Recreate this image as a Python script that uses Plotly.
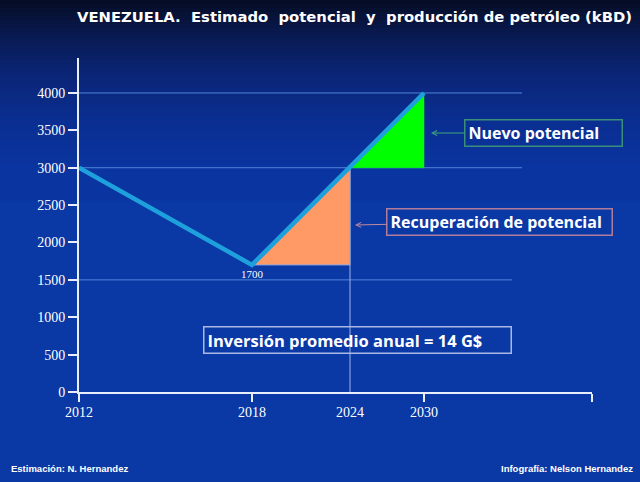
import plotly.graph_objects as go

# ---------------- data ----------------
tick_years = [2012, 2018, 2024, 2030]
tick_labels = ["2012", "2018", "2024", "2030"]
# the slide's x axis is irregular: position of each year along the axis
tick_pos = [0, 173, 271, 345]
axis_end = 513

prod_years = [2012, 2018, 2030]
prod_values = [3000, 1700, 4000]

recup_years = [2018, 2024, 2024, 2018]
recup_values = [1700, 3000, 1700, 1700]

nuevo_years = [2024, 2030, 2030, 2024]
nuevo_values = [3000, 4000, 3000, 3000]

y_ticks = [0, 500, 1000, 1500, 2000, 2500, 3000, 3500, 4000]
grid_levels = [4000, 3000, 1500]
min_label = "1700"

pos = dict(zip(tick_years, tick_pos))
def px(years):
    return [pos[y] for y in years]

# ---------------- figure ----------------
W, H = 640, 482
ML, MR, MT, MB = 79, 48, 58, 90
y_max = 4468

fig = go.Figure()

# gradient background (stripes)
stops = [(0, (5, 12, 35)), (30, (8, 24, 75)), (70, (10, 36, 115)),
         (120, (10, 46, 145)), (170, (10, 52, 160)), (482, (10, 56, 165))]
def col_at(y):
    for (y0, c0), (y1, c1) in zip(stops[:-1], stops[1:]):
        if y0 <= y <= y1:
            t = (y - y0) / (y1 - y0)
            return "rgb(%d,%d,%d)" % tuple(round(a + (b - a) * t) for a, b in zip(c0, c1))
    return "rgb(%d,%d,%d)" % stops[-1][1]

pw, ph = W - ML - MR, H - MT - MB
def pxx(x):
    return (x - ML) / pw
def pyy(y):
    return (H - MB - y) / ph

step = 4
shapes = []
for y in range(0, 200, step):
    shapes.append(dict(type="rect", xref="paper", yref="paper", layer="below",
                       x0=pxx(0), x1=pxx(W), y0=pyy(y + step + 0.5), y1=pyy(y),
                       fillcolor=col_at(y + step / 2), line=dict(width=0)))

# horizontal reference lines
grid_end = {4000: 443, 3000: 443, 1500: 433}
for g in grid_levels:
    shapes.append(dict(type="line", xref="x", yref="y", layer="below",
                       x0=0, x1=grid_end[g], y0=g, y1=g,
                       line=dict(color="#4f86dc", width=1)))
# vertical line at 2024
shapes.append(dict(type="line", xref="x", yref="y", layer="below",
                   x0=pos[2024], x1=pos[2024], y0=0, y1=3000,
                   line=dict(color="#9db3e6", width=1)))

fig.add_trace(go.Scatter(x=px(recup_years), y=recup_values, fill="toself",
                         fillcolor="#ff9966", mode="lines",
                         line=dict(color="#8fa8e0", width=1), hoverinfo="skip"))
fig.add_trace(go.Scatter(x=px(nuevo_years), y=nuevo_values, fill="toself",
                         fillcolor="#00ff00", mode="lines",
                         line=dict(color="#00ff00", width=0.5), hoverinfo="skip"))
fig.add_trace(go.Scatter(x=px(prod_years), y=prod_values, mode="lines",
                         line=dict(color="#1ea0dc", width=4.5), hoverinfo="skip"))

white = "#ffffff"
bold_font = "Open Sans, Liberation Sans, Arial"
foot_font = "Liberation Sans, Arial"
annotations = [
    dict(text="<b>VENEZUELA.  Estimado  potencial  y  producción de petróleo (kBD)</b>",
         xref="paper", yref="paper", x=pxx(634), y=pyy(17), xanchor="right", yanchor="middle",
         showarrow=False, font=dict(family="DejaVu Sans", size=14.8, color=white)),
    dict(text="<b>Estimación: N. Hernandez</b>", xref="paper", yref="paper",
         x=pxx(9), y=pyy(468), xanchor="left", yanchor="middle", showarrow=False,
         font=dict(family=foot_font, size=9.5, color=white)),
    dict(text="<b>Infografía: Nelson Hernandez</b>", xref="paper", yref="paper",
         x=pxx(635), y=pyy(468), xanchor="right", yanchor="middle", showarrow=False,
         font=dict(family=foot_font, size=9.5, color=white)),
    dict(text=min_label, xref="x", yref="y", x=pos[2018], y=1700, yshift=-9,
         showarrow=False, yanchor="middle",
         font=dict(family="Liberation Serif, Times New Roman", size=11, color=white)),
    dict(text="<b>Nuevo potencial</b>", xref="x", yref="y", x=352, y=(H - MB - 133) / ph * y_max,
         ax=112, ay=0, showarrow=True, arrowhead=5, arrowsize=1, arrowwidth=1,
         arrowcolor="#3fa57a", bordercolor="#3a8f78", borderwidth=1.5, borderpad=3,
         width=150, height=19, align="left",
         font=dict(family=bold_font, size=16, color=white)),
    dict(text="<b>Recuperación de potencial</b>", xref="x", yref="y", x=276, y=(H - MB - 225) / ph * y_max,
         ax=144, ay=-3, showarrow=True, arrowhead=5, arrowsize=1, arrowwidth=1,
         arrowcolor="#c48aa0", bordercolor="#b07c9c", borderwidth=1.5, borderpad=3,
         width=218, height=19, align="left",
         font=dict(family=bold_font, size=16, color=white)),
    dict(text="<b>Inversión promedio anual = 14 G$</b>", xref="paper", yref="paper",
         x=pxx(357.5), y=pyy(340), xanchor="center", yanchor="middle", showarrow=False,
         bordercolor="#a9b8e4", borderwidth=1.5, borderpad=3,
         width=300, height=19, align="left",
         font=dict(family=bold_font, size=16.5, color=white)),
]

fig.update_layout(
    width=W, height=H,
    margin=dict(l=ML, r=MR, t=MT, b=MB),
    paper_bgcolor="rgb(10,56,165)", plot_bgcolor="rgba(0,0,0,0)",
    showlegend=False, shapes=shapes, annotations=annotations,
    xaxis=dict(range=[0, axis_end], tickvals=px(tick_years), ticktext=tick_labels,
               ticks="", showgrid=False, zeroline=False, showline=True,
               linecolor="#e8eefc", linewidth=2, ticklabelstandoff=6,
               tickfont=dict(family="Liberation Serif, Times New Roman", size=14, color=white),
               minor=dict(tickvals=[pos[2012], pos[2018], pos[2030], axis_end],
                          ticks="outside", ticklen=8, tickwidth=2, tickcolor="#e8eefc",
                          showgrid=False),
               fixedrange=True),
    yaxis=dict(range=[0, y_max], tickvals=y_ticks, ticks="outside", ticklen=9,
               tickwidth=2, tickcolor="#e8eefc", showgrid=False, zeroline=False,
               showline=True, linecolor="#e8eefc", linewidth=2,
               tickfont=dict(family="Liberation Serif, Times New Roman", size=14, color=white),
               fixedrange=True),
)

fig.write_html("out.html", config={"displayModeBar": False},
               post_script="document.body.style.margin='0';document.body.style.overflow='hidden';")
